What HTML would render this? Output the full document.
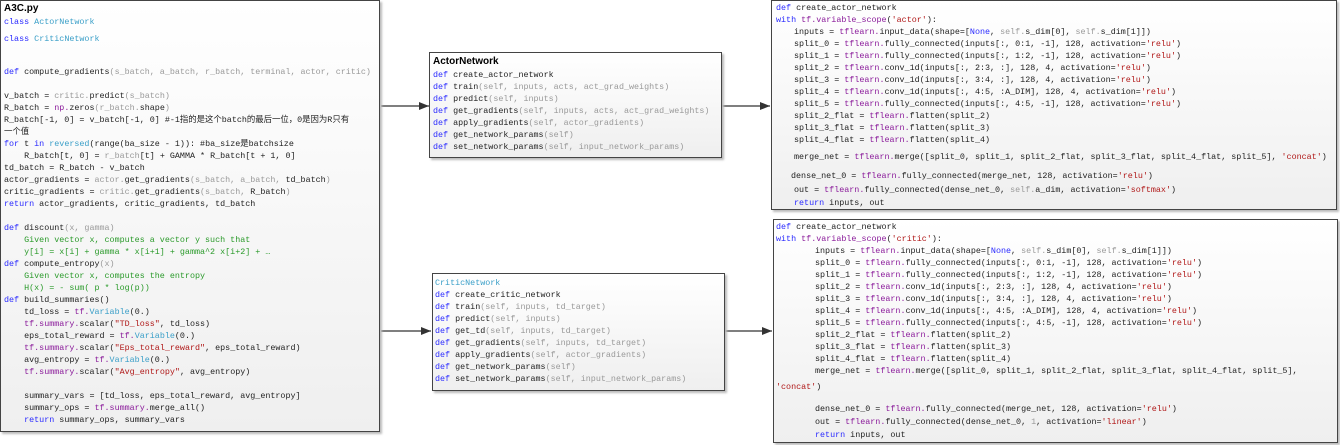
<!DOCTYPE html>
<html><head><meta charset="utf-8"><style>
body{margin:0;width:1340px;height:445px;background:#fff;position:relative;overflow:hidden;font-family:"Liberation Mono","Noto Sans CJK SC",monospace;font-size:8.4px;color:#222}
.box{position:absolute;border:1px solid #444;background:linear-gradient(#fff,#efefef);box-shadow:2px 2px 2px #bbb}
.l{position:absolute;white-space:pre;line-height:12px}
.k{color:#2a2aff}.c{color:#3a9fc8}.g{color:#999}.p{color:#8a1a9a}.s{color:#b01818}.m{color:#2a9a2a}.t{font-family:"Liberation Sans",sans-serif;font-weight:bold;font-size:10px;color:#000}
</style></head><body>
<svg style="position:absolute;left:0;top:0" width="1340" height="445">
<defs><marker id="a" markerWidth="10" markerHeight="8" refX="10" refY="4" orient="auto" markerUnits="userSpaceOnUse"><path d="M0,0 L10,4 L0,8 z" fill="#333"/></marker></defs>
<g stroke="#333" stroke-width="1.2" fill="none">
<line x1="381" y1="106" x2="429" y2="106" marker-end="url(#a)"/>
<line x1="721" y1="106" x2="770" y2="106" marker-end="url(#a)"/>
<line x1="381" y1="331" x2="431" y2="331" marker-end="url(#a)"/>
<line x1="724" y1="331" x2="772" y2="331" marker-end="url(#a)"/>
</g></svg>

<div class="box" style="left:0;top:0;width:378px;height:430px">
<div class="l t" style="left:3px;top:2px">A3C.py</div>
<div class="l" style="left:3px;top:15px"><span class="k">class</span> <span class="c">ActorNetwork</span></div>
<div class="l" style="left:3px;top:32px"><span class="k">class</span> <span class="c">CriticNetwork</span></div>
<div class="l" style="left:3px;top:65px"><span class="k">def</span> compute_gradients<span class="g">(s_batch, a_batch, r_batch, terminal, actor, critic)</span></div>
<div class="l" style="left:3px;top:89px">v_batch = <span class="g">critic.</span>predict<span class="g">(s_batch)</span></div>
<div class="l" style="left:3px;top:101px">R_batch = <span class="p">np.</span>zeros<span class="g">(r_batch.</span>shape<span class="g">)</span></div>
<div class="l" style="left:3px;top:113px">R_batch[-1, 0] = v_batch[-1, 0] #-1指的是这个batch的最后一位，0是因为R只有</div>
<div class="l" style="left:3px;top:125px">一个值</div>
<div class="l" style="left:3px;top:137px"><span class="k">for</span> t <span class="k">in</span> <span class="c">reversed</span>(range(ba_size - 1)): #ba_size是batchsize</div>
<div class="l" style="left:3px;top:149px">    R_batch[t, 0] = <span class="g">r_batch</span>[t] + GAMMA * R_batch[t + 1, 0]</div>
<div class="l" style="left:3px;top:161px">td_batch = R_batch - v_batch</div>
<div class="l" style="left:3px;top:173px">actor_gradients = <span class="g">actor.</span>get_gradients<span class="g">(s_batch, a_batch,</span> td_batch<span class="g">)</span></div>
<div class="l" style="left:3px;top:185px">critic_gradients = <span class="g">critic.</span>get_gradients<span class="g">(s_batch,</span> R_batch<span class="g">)</span></div>
<div class="l" style="left:3px;top:197px"><span class="k">return</span> actor_gradients, critic_gradients, td_batch</div>
<div class="l" style="left:3px;top:221px"><span class="k">def</span> discount<span class="g">(x, gamma)</span></div>
<div class="l m" style="left:3px;top:233px">    Given vector x, computes a vector y such that</div>
<div class="l m" style="left:3px;top:245px">    y[i] = x[i] + gamma * x[i+1] + gamma^2 x[i+2] + …</div>
<div class="l" style="left:3px;top:257px"><span class="k">def</span> compute_entropy<span class="g">(x)</span></div>
<div class="l m" style="left:3px;top:269px">    Given vector x, computes the entropy</div>
<div class="l m" style="left:3px;top:281px">    H(x) = - sum( p * log(p))</div>
<div class="l" style="left:3px;top:293px"><span class="k">def</span> build_summaries()</div>
<div class="l" style="left:3px;top:305px">    td_loss = <span class="p">tf.</span><span class="c">Variable</span>(0.)</div>
<div class="l" style="left:3px;top:317px">    <span class="p">tf.summary.</span>scalar(<span class="s">"TD_loss"</span>, td_loss)</div>
<div class="l" style="left:3px;top:329px">    eps_total_reward = <span class="p">tf.</span><span class="c">Variable</span>(0.)</div>
<div class="l" style="left:3px;top:341px">    <span class="p">tf.summary.</span>scalar(<span class="s">"Eps_total_reward"</span>, eps_total_reward)</div>
<div class="l" style="left:3px;top:353px">    avg_entropy = <span class="p">tf.</span><span class="c">Variable</span>(0.)</div>
<div class="l" style="left:3px;top:365px">    <span class="p">tf.summary.</span>scalar(<span class="s">"Avg_entropy"</span>, avg_entropy)</div>
<div class="l" style="left:3px;top:389px">    summary_vars = [td_loss, eps_total_reward, avg_entropy]</div>
<div class="l" style="left:3px;top:401px">    summary_ops = <span class="p">tf.summary.</span>merge_all()</div>
<div class="l" style="left:3px;top:413px">    <span class="k">return</span> summary_ops, summary_vars</div>
</div>

<div class="box" style="left:429px;top:52px;width:291px;height:104px">
<div class="l t" style="left:3px;top:3px">ActorNetwork</div>
<div class="l" style="left:3px;top:16px"><span class="k">def</span> create_actor_network</div>
<div class="l" style="left:3px;top:28px"><span class="k">def</span> train<span class="g">(self, inputs, acts, act_grad_weights)</span></div>
<div class="l" style="left:3px;top:40px"><span class="k">def</span> predict<span class="g">(self, inputs)</span></div>
<div class="l" style="left:3px;top:52px"><span class="k">def</span> get_gradients<span class="g">(self, inputs, acts, act_grad_weights)</span></div>
<div class="l" style="left:3px;top:64px"><span class="k">def</span> apply_gradients<span class="g">(self, actor_gradients)</span></div>
<div class="l" style="left:3px;top:76px"><span class="k">def</span> get_network_params<span class="g">(self)</span></div>
<div class="l" style="left:3px;top:88px"><span class="k">def</span> set_network_params<span class="g">(self, input_network_params)</span></div>
</div>

<div class="box" style="left:432px;top:273px;width:291px;height:116px">
<div class="l c" style="left:2px;top:3px">CriticNetwork</div>
<div class="l" style="left:2px;top:15px"><span class="k">def</span> create_critic_network</div>
<div class="l" style="left:2px;top:27px"><span class="k">def</span> train<span class="g">(self, inputs, td_target)</span></div>
<div class="l" style="left:2px;top:39px"><span class="k">def</span> predict<span class="g">(self, inputs)</span></div>
<div class="l" style="left:2px;top:51px"><span class="k">def</span> get_td<span class="g">(self, inputs, td_target)</span></div>
<div class="l" style="left:2px;top:63px"><span class="k">def</span> get_gradients<span class="g">(self, inputs, td_target)</span></div>
<div class="l" style="left:2px;top:75px"><span class="k">def</span> apply_gradients<span class="g">(self, actor_gradients)</span></div>
<div class="l" style="left:2px;top:87px"><span class="k">def</span> get_network_params<span class="g">(self)</span></div>
<div class="l" style="left:2px;top:99px"><span class="k">def</span> set_network_params<span class="g">(self, input_network_params)</span></div>
</div>

<div class="box" style="left:771px;top:0;width:564px;height:208px">
<div class="l" style="left:4px;top:1px"><span class="k">def</span> create_actor_network</div>
<div class="l" style="left:4px;top:13px"><span class="k">with</span> <span class="p">tf.variable_scope</span>(<span class="s">'actor'</span>):</div>
<div class="l" style="left:22px;top:25px">inputs = <span class="p">tflearn.</span>input_data(shape=[<span class="k">None</span>, <span class="g">self.</span>s_dim[0], <span class="g">self.</span>s_dim[1]])</div>
<div class="l" style="left:22px;top:37px">split_0 = <span class="p">tflearn.</span>fully_connected(inputs[:, 0:1, -1], 128, activation=<span class="s">'relu'</span>)</div>
<div class="l" style="left:22px;top:49px">split_1 = <span class="p">tflearn.</span>fully_connected(inputs[:, 1:2, -1], 128, activation=<span class="s">'relu'</span>)</div>
<div class="l" style="left:22px;top:61px">split_2 = <span class="p">tflearn.</span>conv_1d(inputs[:, 2:3, :], 128, 4, activation=<span class="s">'relu'</span>)</div>
<div class="l" style="left:22px;top:73px">split_3 = <span class="p">tflearn.</span>conv_1d(inputs[:, 3:4, :], 128, 4, activation=<span class="s">'relu'</span>)</div>
<div class="l" style="left:22px;top:85px">split_4 = <span class="p">tflearn.</span>conv_1d(inputs[:, 4:5, :A_DIM], 128, 4, activation=<span class="s">'relu'</span>)</div>
<div class="l" style="left:22px;top:97px">split_5 = <span class="p">tflearn.</span>fully_connected(inputs[:, 4:5, -1], 128, activation=<span class="s">'relu'</span>)</div>
<div class="l" style="left:22px;top:109px">split_2_flat = <span class="p">tflearn.</span>flatten(split_2)</div>
<div class="l" style="left:22px;top:121px">split_3_flat = <span class="p">tflearn.</span>flatten(split_3)</div>
<div class="l" style="left:22px;top:133px">split_4_flat = <span class="p">tflearn.</span>flatten(split_4)</div>
<div class="l" style="left:22px;top:150px">merge_net = <span class="p">tflearn.</span>merge([split_0, split_1, split_2_flat, split_3_flat, split_4_flat, split_5], <span class="s">'concat'</span>)</div>
<div class="l" style="left:19px;top:169px">dense_net_0 = <span class="p">tflearn.</span>fully_connected(merge_net, 128, activation=<span class="s">'relu'</span>)</div>
<div class="l" style="left:22px;top:183px">out = <span class="p">tflearn.</span>fully_connected(dense_net_0, <span class="g">self.</span>a_dim, activation=<span class="s">'softmax'</span>)</div>
<div class="l" style="left:22px;top:196px"><span class="k">return</span> inputs, out</div>
</div>

<div class="box" style="left:773px;top:219px;width:563px;height:222px">
<div class="l" style="left:2px;top:1px"><span class="k">def</span> create_actor_network</div>
<div class="l" style="left:2px;top:13px"><span class="k">with</span> <span class="p">tf.variable_scope</span>(<span class="s">'critic'</span>):</div>
<div class="l" style="left:41px;top:25px">inputs = <span class="p">tflearn.</span>input_data(shape=[<span class="k">None</span>, <span class="g">self.</span>s_dim[0], <span class="g">self.</span>s_dim[1]])</div>
<div class="l" style="left:41px;top:37px">split_0 = <span class="p">tflearn.</span>fully_connected(inputs[:, 0:1, -1], 128, activation=<span class="s">'relu'</span>)</div>
<div class="l" style="left:41px;top:49px">split_1 = <span class="p">tflearn.</span>fully_connected(inputs[:, 1:2, -1], 128, activation=<span class="s">'relu'</span>)</div>
<div class="l" style="left:41px;top:61px">split_2 = <span class="p">tflearn.</span>conv_1d(inputs[:, 2:3, :], 128, 4, activation=<span class="s">'relu'</span>)</div>
<div class="l" style="left:41px;top:73px">split_3 = <span class="p">tflearn.</span>conv_1d(inputs[:, 3:4, :], 128, 4, activation=<span class="s">'relu'</span>)</div>
<div class="l" style="left:41px;top:85px">split_4 = <span class="p">tflearn.</span>conv_1d(inputs[:, 4:5, :A_DIM], 128, 4, activation=<span class="s">'relu'</span>)</div>
<div class="l" style="left:41px;top:97px">split_5 = <span class="p">tflearn.</span>fully_connected(inputs[:, 4:5, -1], 128, activation=<span class="s">'relu'</span>)</div>
<div class="l" style="left:41px;top:109px">split_2_flat = <span class="p">tflearn.</span>flatten(split_2)</div>
<div class="l" style="left:41px;top:121px">split_3_flat = <span class="p">tflearn.</span>flatten(split_3)</div>
<div class="l" style="left:41px;top:133px">split_4_flat = <span class="p">tflearn.</span>flatten(split_4)</div>
<div class="l" style="left:41px;top:145px">merge_net = <span class="p">tflearn.</span>merge([split_0, split_1, split_2_flat, split_3_flat, split_4_flat, split_5],</div>
<div class="l" style="left:2px;top:161px"><span class="s">'concat'</span>)</div>
<div class="l" style="left:41px;top:183px">dense_net_0 = <span class="p">tflearn.</span>fully_connected(merge_net, 128, activation=<span class="s">'relu'</span>)</div>
<div class="l" style="left:41px;top:196px">out = <span class="p">tflearn.</span>fully_connected(dense_net_0, <span class="g">1</span>, activation=<span class="s">'linear'</span>)</div>
<div class="l" style="left:41px;top:209px"><span class="k">return</span> inputs, out</div>
</div>
</body></html>
